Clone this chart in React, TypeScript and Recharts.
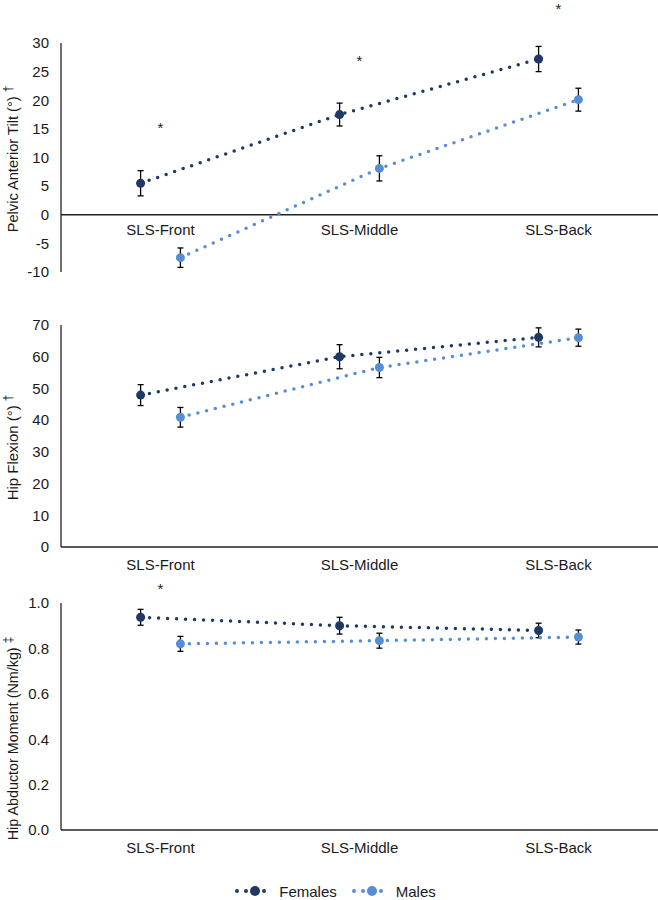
import React from 'react';
import { LineChart, Line, XAxis, YAxis, ErrorBar, ReferenceLine, ReferenceDot } from 'recharts';

const CATEGORIES = ['SLS-Front', 'SLS-Middle', 'SLS-Back'];

// pelvic anterior tilt (deg), mean and error
const tiltFemales = [5.5, 17.5, 27.2];
const tiltFemalesErr = [2.2, 2.0, 2.2];
const tiltMales = [-7.5, 8.1, 20.1];
const tiltMalesErr = [1.7, 2.2, 2.0];
const tiltStars = [15.8, 27.5, 36.5];

// hip flexion (deg)
const flexFemales = [47.9, 60.0, 66.1];
const flexFemalesErr = [3.3, 3.8, 3.0];
const flexMales = [40.9, 56.6, 66.0];
const flexMalesErr = [3.1, 3.2, 2.7];

// hip abductor moment (Nm/kg)
const abdFemales = [0.937, 0.9, 0.879];
const abdFemalesErr = [0.035, 0.037, 0.032];
const abdMales = [0.82, 0.834, 0.85];
const abdMalesErr = [0.033, 0.033, 0.031];
const abdStars = [1.08];

const tiltTicks = [-10, -5, 0, 5, 10, 15, 20, 25, 30];
const flexTicks = [0, 10, 20, 30, 40, 50, 60, 70];
const abdTicks = [0, 0.2, 0.4, 0.6, 0.8, 1.0];

const NAVY = '#1F3864';
const LIGHT = '#558ED5';
const INK = '#1a1a1a';
const AXIS = '#222';
const FONT = '"Liberation Sans", Arial, sans-serif';
const OFFSET = 0.1; // females sit left of the category, males right

const toPoints = (vals: number[], err: number[], off: number) =>
  vals.map((v, i) => ({ x: i + off, y: v, err: err[i] }));

const CatTick = ({ x, y, payload, lift = 0 }: any) => (
  <text x={x} y={y - lift} dy="0.71em" textAnchor="middle" fontSize={15} fill={INK} fontFamily={FONT}>
    {CATEGORIES[payload.value]}
  </text>
);

const YTitle = ({ viewBox, text, mark, shift = 0, len }: any) => {
  const cy = (viewBox?.y ?? 0) + (viewBox?.height ?? 0) / 2 + shift;
  return (
    <text
      transform={`translate(13, ${cy}) rotate(-90)`}
      textAnchor="middle"
      dominantBaseline="central"
      fontSize={14.5}
      fill={INK}
      fontFamily={FONT}
    >
      <tspan textLength={len} lengthAdjust="spacingAndGlyphs">{text}</tspan>
      <tspan dx={4} dy={-5} fontSize={12}>{mark}</tspan>
    </text>
  );
};

const Star = ({ cx, cy }: any) => (
  <text x={cx} y={cy} dy="0.58em" textAnchor="middle" fontSize={15} fill={INK} fontFamily={FONT}>*</text>
);

interface PanelProps {
  height: number;
  top: number;
  axisHeight: number;
  domain: [number, number];
  ticks: number[];
  fmt: (v: number) => string;
  title: string;
  mark: string;
  titleShift: number;
  titleLen: number;
  females: { x: number; y: number; err: number }[];
  males: { x: number; y: number; err: number }[];
  stars: number[];
  zeroLine?: boolean;
  lift?: number;
}

function Panel(p: PanelProps) {
  return (
    <LineChart width={658} height={p.height} margin={{ top: p.top, right: 0, bottom: 0, left: 0 }}>
      <XAxis
        type="number"
        dataKey="x"
        domain={[-0.5, 2.5]}
        ticks={[0, 1, 2]}
        height={p.axisHeight}
        axisLine={p.zeroLine ? false : { stroke: AXIS, strokeWidth: 1.3 }}
        tickLine={false}
        tickMargin={6}
        tick={<CatTick lift={p.lift ?? 0} />}
      />
      <YAxis
        type="number"
        domain={p.domain}
        ticks={p.ticks}
        width={61}
        interval={0}
        tickFormatter={p.fmt}
        axisLine={{ stroke: AXIS, strokeWidth: 1.3 }}
        tickLine={false}
        tickMargin={6}
        tick={{ fontSize: 15, fill: INK, fontFamily: FONT }}
        label={<YTitle text={p.title} mark={p.mark} shift={p.titleShift} len={p.titleLen} />}
      />
      {p.zeroLine && <ReferenceLine y={0} stroke={AXIS} strokeWidth={1.3} />}
      <Line
        data={p.females}
        dataKey="y"
        stroke={NAVY}
        strokeWidth={3.5}
        strokeDasharray="0 9"
        strokeLinecap="round"
        dot={{ r: 4.5, fill: NAVY, stroke: NAVY, strokeWidth: 0 }}
        activeDot={false}
        isAnimationActive={false}
      >
        <ErrorBar dataKey="err" direction="y" width={3} stroke="#000" strokeWidth={1.3} isAnimationActive={false} />
      </Line>
      <Line
        data={p.males}
        dataKey="y"
        stroke={LIGHT}
        strokeWidth={3.5}
        strokeDasharray="0 9"
        strokeLinecap="round"
        dot={{ r: 4.5, fill: LIGHT, stroke: LIGHT, strokeWidth: 0 }}
        activeDot={false}
        isAnimationActive={false}
      >
        <ErrorBar dataKey="err" direction="y" width={3} stroke="#000" strokeWidth={1.3} isAnimationActive={false} />
      </Line>
      {p.stars.map((v, i) => (
        <ReferenceDot key={i} x={i} y={v} r={0} ifOverflow="visible" shape={<Star />} />
      ))}
    </LineChart>
  );
}

const LegendMark = ({ color }: { color: string }) => (
  <svg width={42} height={14} style={{ display: 'block' }}>
    <line x1={3} y1={7} x2={39} y2={7} stroke={color} strokeWidth={4} strokeDasharray="0 9" strokeLinecap="round" />
    <circle cx={21} cy={7} r={5} fill={color} />
  </svg>
);

export default function App() {
  return (
    <div style={{ position: 'absolute', left: 0, top: 0, width: 658, height: 900, background: '#fff', fontFamily: FONT, overflow: 'hidden' }}>
      <div style={{ position: 'absolute', left: 0, top: 0 }}>
        <Panel
          height={300}
          top={43}
          axisHeight={28}
          domain={[-10, 30]}
          ticks={tiltTicks}
          fmt={(v) => String(v)}
          title="Pelvic Anterior Tilt (°)"
          mark="†"
          titleShift={1.5}
          titleLen={136}
          females={toPoints(tiltFemales, tiltFemalesErr, -OFFSET)}
          males={toPoints(tiltMales, tiltMalesErr, OFFSET)}
          stars={tiltStars}
          zeroLine
          lift={60}
        />
      </div>
      <div style={{ position: 'absolute', left: 0, top: 300 }}>
        <Panel
          height={280}
          top={25}
          axisHeight={33}
          domain={[0, 70]}
          ticks={flexTicks}
          fmt={(v) => String(v)}
          title="Hip Flexion (°)"
          mark="†"
          titleShift={11.5}
          titleLen={95}
          females={toPoints(flexFemales, flexFemalesErr, -OFFSET)}
          males={toPoints(flexMales, flexMalesErr, OFFSET)}
          stars={[]}
        />
      </div>
      <div style={{ position: 'absolute', left: 0, top: 580 }}>
        <Panel
          height={280}
          top={23}
          axisHeight={30}
          domain={[0, 1]}
          ticks={abdTicks}
          fmt={(v) => v.toFixed(1)}
          title="Hip Abductor Moment (Nm/kg)"
          mark="‡"
          titleShift={22}
          titleLen={193}
          females={toPoints(abdFemales, abdFemalesErr, -OFFSET)}
          males={toPoints(abdMales, abdMalesErr, OFFSET)}
          stars={abdStars}
        />
      </div>
      <div
        style={{
          position: 'absolute', left: 0, top: 882, width: 658, height: 18, lineHeight: '17px',
          display: 'flex', justifyContent: 'center', alignItems: 'center', fontSize: 15, color: INK,
        }}
      >
        <div style={{ display: 'flex', alignItems: 'center', marginLeft: 12 }}>
          <LegendMark color={NAVY} />
          <span style={{ marginLeft: 3 }}>Females</span>
        </div>
        <div style={{ display: 'flex', alignItems: 'center', marginLeft: 14 }}>
          <LegendMark color={LIGHT} />
          <span style={{ marginLeft: 3 }}>Males</span>
        </div>
      </div>
    </div>
  );
}
